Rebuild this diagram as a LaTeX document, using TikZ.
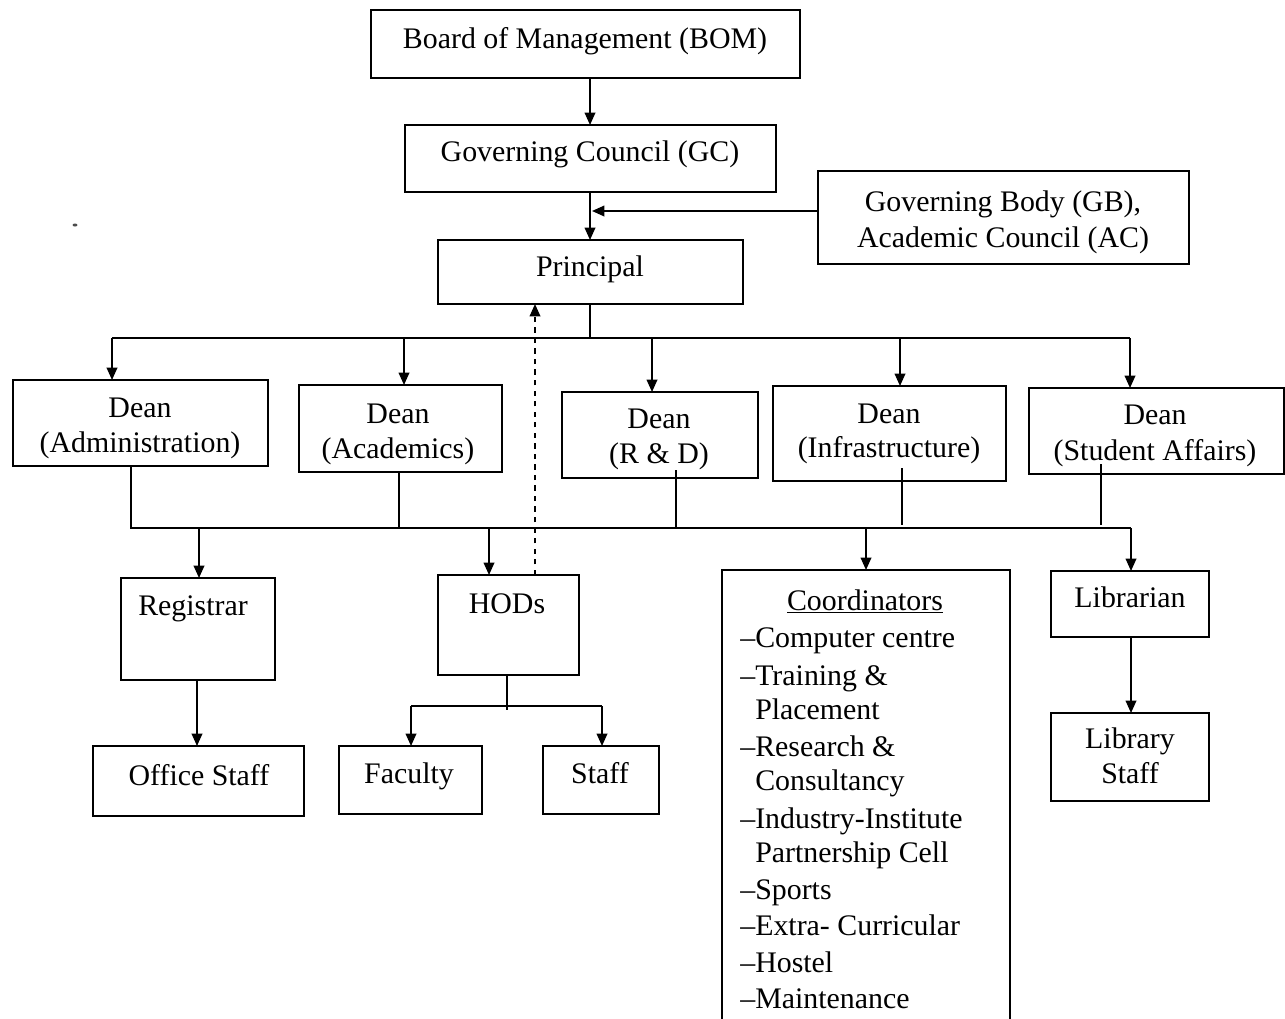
\documentclass[tikz,border=0pt]{standalone}
\usepackage{fontspec}
\setmainfont{Liberation Serif}
\usetikzlibrary{arrows.meta}
\newcommand\mybx[5]{\node[box, minimum width={(#4-#2)*0.02cm}, minimum height={(#5-#3)*0.02cm}] (#1) at ({(#2+#4)/2},{(#3+#5)/2}) {};}
\begin{document}
\begin{tikzpicture}[x=0.02cm,y=-0.02cm,
 box/.style={draw, line width=1.3pt, inner sep=0pt, outer sep=0pt},
 txt/.style={anchor=base, inner sep=0pt, font=\fontsize{17}{20}\selectfont},
 ltxt/.style={anchor=base west, inner sep=0pt, font=\fontsize{17}{20}\selectfont},
 ln/.style={line width=1pt},
 arr/.style={line width=1pt, -{Triangle[length=7pt,width=6pt]}}]
\clip (0,0) rectangle (1285,1018);
\fill[white] (0,0) rectangle (1285,1018);

% stray mark
\fill[black!70] (75,225) ellipse (2.5 and 1.5);

% boxes
\mybx{bom}{371}{10}{800}{78}
\mybx{gc}{405}{125}{776}{192}
\mybx{gb}{818}{171}{1189}{264}
\mybx{prin}{438}{240}{743}{304}
\mybx{dadm}{13}{380}{268}{466}
\mybx{dacad}{299}{385}{502}{472}
\mybx{drd}{562}{392}{758}{478}
\mybx{dinf}{773}{386}{1006}{481}
\mybx{dsa}{1029}{388}{1284}{474}
\mybx{reg}{121}{578}{275}{680}
\mybx{hod}{438}{575}{579}{675}
\mybx{ofs}{93}{746}{304}{816}
\mybx{fac}{339}{746}{482}{814}
\mybx{stf}{543}{746}{659}{814}
\mybx{coord}{722}{570}{1010}{1040}
\mybx{lib}{1051}{571}{1209}{637}
\mybx{libs}{1051}{713}{1209}{801}

% texts
\node[txt] (tbom) at (585,48) {Board of Management (BOM)};
\node[txt] (tgc) at (590,161) {Governing Council (GC)};
\node[txt] (tgb1) at (1003,211) {Governing Body (GB),};
\node[txt] (tgb2) at (1003,247) {Academic Council (AC)};
\node[txt] (tprin) at (590,276) {Principal};
\node[txt] (tda1) at (140,417) {Dean};
\node[txt] (tda2) at (140,452) {(Administration)};
\node[txt] (tdc1) at (398,423) {Dean};
\node[txt] (tdc2) at (398,458) {(Academics)};
\node[txt] (tdr1) at (659,428) {Dean};
\node[txt] (tdr2) at (659,463) {(R \& D)};
\node[txt] (tdi1) at (889,423) {Dean};
\node[txt] (tdi2) at (889,457) {(Infrastructure)};
\node[txt] (tds1) at (1155,424) {Dean};
\node[txt] (tds2) at (1155,460) {(Student Affairs)};
\node[txt] (treg) at (193,615) {Registrar};
\node[txt] (thod) at (507,613) {HODs};
\node[txt] (tofs) at (199,785) {Office Staff};
\node[txt] (tfac) at (409,783) {Faculty};
\node[txt] (tstf) at (600,783) {Staff};
\node[txt] (tlib) at (1130,607) {Librarian};
\node[txt] (tls1) at (1130,748) {Library};
\node[txt] (tls2) at (1130,783) {Staff};
\node[txt] (tco) at (865,610) {\underline{Coordinators}};
\node[ltxt] (c1) at (740,647) {–Computer centre};
\node[ltxt] (c2) at (740,685) {–Training \&};
\node[ltxt] (c3) at (740,719) {\phantom{–}Placement};
\node[ltxt] (c4) at (740,756) {–Research \&};
\node[ltxt] (c5) at (740,790) {\phantom{–}Consultancy};
\node[ltxt] (c6) at (740,828) {–Industry-Institute};
\node[ltxt] (c7) at (740,862) {\phantom{–}Partnership Cell};
\node[ltxt] (c8) at (740,899) {–Sports};
\node[ltxt] (c9) at (740,935) {–Extra- Curricular};
\node[ltxt] (c10) at (740,972) {–Hostel};
\node[ltxt] (c11) at (740,1008) {–Maintenance};

% top connectors
\draw[arr] (bom.south -| 590,0) -- (gc.north -| 590,0);
\draw[arr] (gc.south -| 590,0) -- (prin.north -| 590,0);
\coordinate (gbtip) at (592,211);
\draw[arr] (gb.west |- gbtip) -- (gbtip);

% principal bus
\coordinate (pb) at (590,338);
\coordinate (pbl) at (112,338);
\coordinate (pbr) at (1130,338);
\draw[ln] (prin.south -| pb) -- (pb);
\draw[ln] (pbl) -- (pbr);
\draw[arr] (pbl) -- (dadm.north -| pbl);
\draw[arr] (404,338) -- (dacad.north -| 404,0);
\draw[arr] (652,338) -- (drd.north -| 652,0);
\draw[arr] (900,338) -- (dinf.north -| 900,0);
\draw[arr] (pbr) -- (dsa.north -| pbr);

% dashed HODs -> Principal
\draw[arr, dashed] (hod.north -| 535,0) -- (prin.south -| 535,0);

% lower bus
\coordinate (lbl) at (131,528);
\coordinate (lbr) at (1131,528);
\draw[ln] (dadm.south -| lbl) -- (lbl) -- (lbr);
\draw[ln] (dacad.south -| 399,0) -- (399,528);
\draw[ln] (676,470) -- (676,528);
\draw[ln] (902,468) -- (902,525);
\draw[ln] (1101,464) -- (1101,525);
\draw[arr] (199,528) -- (reg.north -| 199,0);
\draw[arr] (489,528) -- (hod.north -| 489,0);
\draw[arr] (866,528) -- (coord.north -| 866,0);
\draw[arr] (lbr) -- (lib.north -| lbr);

% lower connectors
\draw[arr] (reg.south -| 197,0) -- (ofs.north -| 197,0);
\coordinate (hb) at (507,706);
\draw[ln] (hod.south -| hb) -- (507,710);
\draw[ln] (411,706) -- (602,706);
\draw[arr] (411,706) -- (fac.north -| 411,0);
\draw[arr] (602,706) -- (stf.north -| 602,0);
\draw[arr] (lib.south -| 1131,0) -- (libs.north -| 1131,0);
\end{tikzpicture}
\end{document}
